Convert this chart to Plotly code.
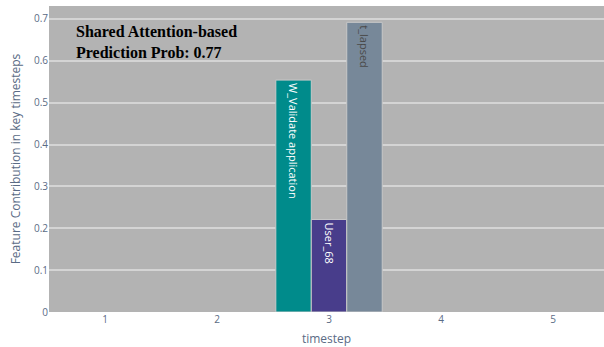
import plotly.graph_objects as go

# Feature contributions at the key timestep
timesteps = [1, 2, 3, 4, 5]
features = ["W_Validate application", "User_68", "t_lapsed"]
feature_step = [3, 3, 3]
contributions = [0.554, 0.221, 0.692]
bar_colors = ["#008B8B", "#483D8B", "#778899"]
text_colors = ["white", "white", "#4a4a4a"]

fig = go.Figure()
for name, step, val, col, tcol in zip(features, feature_step, contributions, bar_colors, text_colors):
    fig.add_trace(go.Bar(
        x=[step], y=[val], name=name,
        text=[name], textposition="inside", insidetextanchor="end",
        textangle=90, textfont=dict(color=tcol, size=11, family="Open Sans"),
        marker=dict(color=col, line=dict(color="#c8c8c8", width=1)),
        showlegend=False,
    ))

fig.update_layout(
    width=604, height=347,
    margin=dict(l=49, r=0, t=6, b=35),
    paper_bgcolor="white", plot_bgcolor="#B3B3B3",
    barmode="group", bargap=0.05,
    font=dict(family="Open Sans", color="#5a6b85", size=11),
    xaxis=dict(
        range=[0.5, 5.455], tickvals=timesteps, showgrid=False, zeroline=False,
        title=dict(text="timestep", font=dict(size=12, color="#5a6b85"), standoff=12),
        tickfont=dict(size=10),
    ),
    yaxis=dict(
        range=[0, 0.731], dtick=0.1, gridcolor="#D4D4D4", gridwidth=1.5, zeroline=False,
        title=dict(text="Feature Contribution in key timesteps", font=dict(size=12, color="#5a6b85"), standoff=10),
        tickfont=dict(size=10),
    ),
    annotations=[dict(
        text="<b>Shared Attention-based<br>Prediction Prob: 0.77</b>",
        xref="paper", yref="paper", x=0.045, y=0.95, xanchor="left", yanchor="top",
        showarrow=False, align="left",
        font=dict(family="Liberation Serif", size=16, color="black"),
    )],
)

fig.write_html("out.html")
